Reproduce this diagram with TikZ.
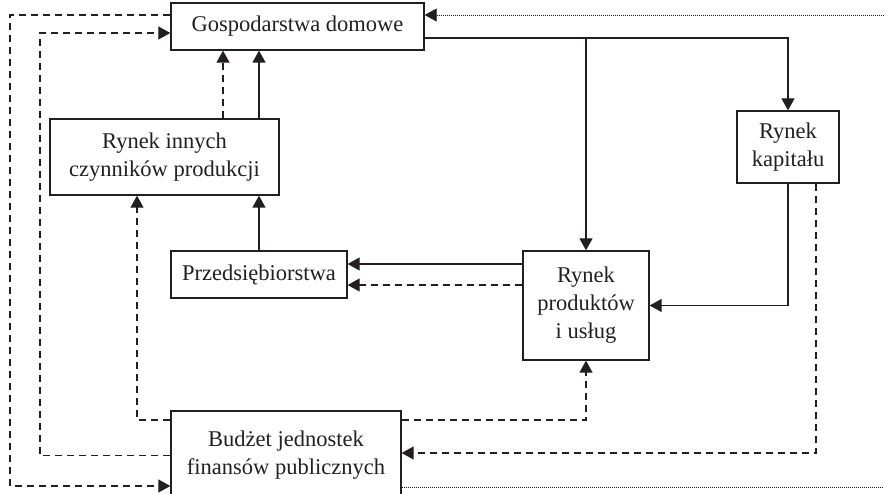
\documentclass[tikz,border=0pt]{standalone}
\usepackage{fontspec}
\setmainfont{Liberation Serif}
\usetikzlibrary{arrows.meta}
\definecolor{ink}{HTML}{231F20}
\tikzset{
  box/.style={draw=ink, line width=1.3pt, rectangle, align=center, inner sep=0pt,
    font=\fontsize{22.5}{28}\selectfont, text=ink},
  tip/.style={-{Triangle[length=12pt,width=13pt]}},
  solidline/.style={draw=ink, line width=1.3pt},
  dashline/.style={draw=ink, line width=1.2pt, dash pattern=on 7pt off 5pt},
  dotline/.style={draw=ink, line width=0.8pt, dash pattern=on 1pt off 1pt},
}
\begin{document}
\begin{tikzpicture}[x=1pt,y=-1pt]
\useasboundingbox (0,0) rectangle (884,494);
\clip (0,0) rectangle (884,494);
% boxes
\node[box, minimum width=253pt, minimum height=47pt] (gosp) at (297.5,26.5) {Gospodarstwa domowe};
\node[box, minimum width=229pt, minimum height=76pt] (inn) at (164.5,157) {Rynek innych\\czynników produkcji};
\node[box, minimum width=176pt, minimum height=47pt] (prz) at (259,274.5) {Przedsiębiorstwa};
\node[box, minimum width=126pt, minimum height=109pt] (prod) at (586,305.5) {Rynek\\produktów\\i usług};
\node[box, minimum width=102pt, minimum height=72pt] (kap) at (788,147) {Rynek\\kapitału};
\node[box, minimum width=230pt, minimum height=89pt] (bud) at (286,455.5) {Budżet jednostek\\finansów publicznych};
% helper coordinates
\coordinate (gtop) at ([yshift=-11.5pt]gosp.east);
\coordinate (ps1) at ([yshift=10.5pt]prz.east);
\coordinate (ps2) at ([yshift=-10.5pt]prz.east);
\coordinate (lx1) at (10,250);
\coordinate (lx2) at (40,250);
\coordinate (rin) at (884,15);
\coordinate (rout) at (884,487);
% solid connectors
\draw[solidline, tip] (gtop) -| (kap.north);
\draw[solidline, tip] (prod.north |- gtop) -- (prod.north);
\draw[solidline, tip] (kap.south) |- (prod.east);
\draw[solidline, tip] (prod.west |- ps1) -- (ps1);
\draw[solidline, tip] (prz.north) -- (prz.north |- inn.south);
\draw[solidline, tip] (prz.north |- inn.north) -- (prz.north |- gosp.south);
% dashed connectors
\draw[dashline, tip] (prod.west |- ps2) -- (ps2);
\draw[dashline, tip] ([xshift=-36pt]prz.north |- inn.north) -- ([xshift=-36pt]prz.north |- gosp.south);
\draw[dashline, tip] ([yshift=11.5pt]gosp.west) -| (lx1) |- ([yshift=-30.5pt]bud.west);
\draw[dashline, tip] (bud.west) -| (lx2) |- ([yshift=-6.5pt]gosp.west);
\draw[dashline, tip] ([yshift=35.5pt]bud.west) -| ([xshift=-27.5pt]inn.south);
\draw[dashline, tip] ([yshift=35.5pt]bud.east) -| (prod.south);
\draw[dashline, tip] ([xshift=28pt]kap.south) |- ([yshift=2.5pt]bud.east);
% dotted connectors
\draw[dotline] ([yshift=-31.5pt]bud.east) -- (rout);
\draw[dotline, tip] (rin) -- ([yshift=11.5pt]gosp.east);
\end{tikzpicture}
\end{document}
